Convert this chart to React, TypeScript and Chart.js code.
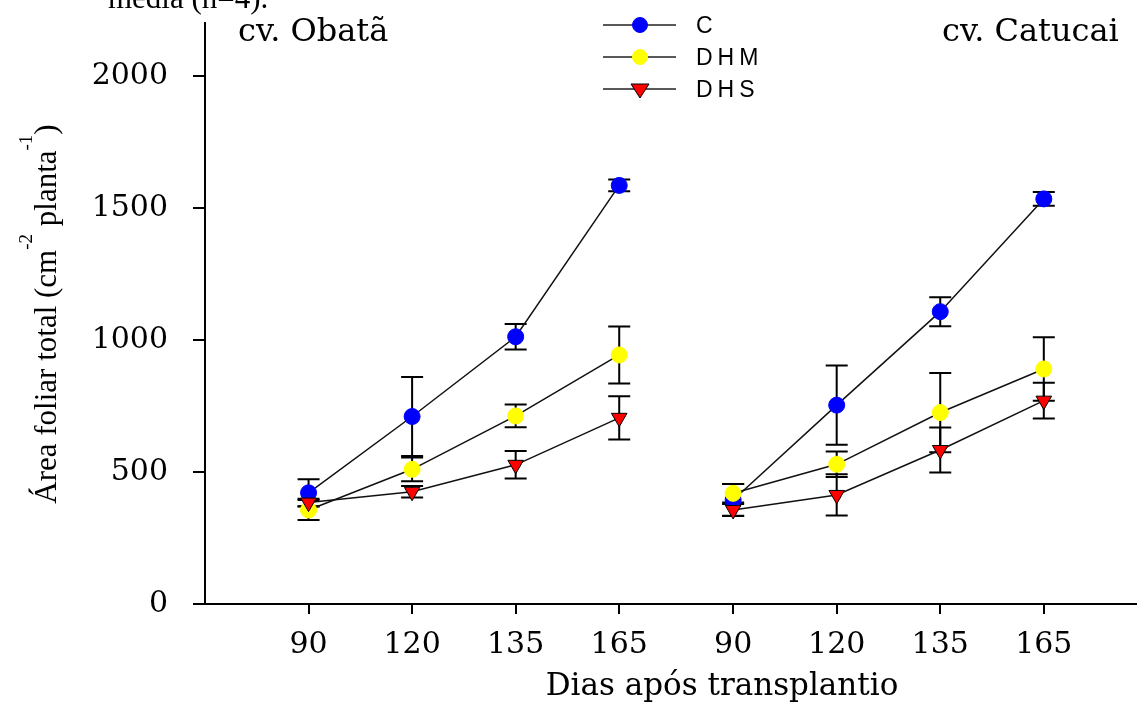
import { useEffect, useRef } from 'react';
import { Chart, registerables } from 'chart.js';

Chart.register(...registerables);

// ---- data ----
const dayLabels = ['90', '120', '135', '165'];
const obataX = [1, 2, 3, 4];
const catucaiX = [5.1, 6.1, 7.1, 8.1];
const xRange = [0, 9];
const yTicks = [0, 500, 1000, 1500, 2000];
const yMax = 2200;

const seriesNames = ['C', 'DHM', 'DHS'];
const panelTitles = ['cv. Obatã', 'cv. Catucai'];
const xTitle = 'Dias após transplantio';
const captionFragment = 'média (n=4).';

const obataC = [421, 710, 1012, 1585];
const obataCErr = [51, 150, 48, 22];
const obataDHM = [356, 510, 712, 943];
const obataDHMErr = [38, 45, 43, 108];
const obataDHS = [384, 425, 527, 705];
const obataDHSErr = [15, 22, 52, 82];

const catucaiC = [394, 753, 1107, 1534];
const catucaiCErr = [60, 150, 55, 26];
const catucaiDHM = [419, 529, 725, 890];
const catucaiDHMErr = [35, 48, 150, 120];
const catucaiDHS = [356, 413, 583, 770];
const catucaiDHSErr = [23, 78, 85, 68];

// ---- styles ----
const styles = [
  { fill: '#0000ff', border: '#0000ff', shape: 'circle', radius: 8, order: 3 },
  { fill: '#ffff00', border: '#ffff00', shape: 'circle', radius: 8, order: 2 },
  { fill: '#ff0000', border: '#000000', shape: 'triangle', radius: 9, order: 1 },
];

function makeDataset(name: string, xs: number[], ys: number[], errs: number[], s: any) {
  return {
    label: name,
    data: xs.map((x, i) => ({ x, y: ys[i] })),
    errors: errs,
    borderColor: '#111',
    borderWidth: 1.5,
    backgroundColor: s.fill,
    pointBackgroundColor: s.fill,
    pointBorderColor: s.border,
    pointBorderWidth: 1,
    pointRadius: s.radius,
    pointStyle: s.shape,
    pointRotation: s.shape === 'triangle' ? 180 : 0,
    fill: false,
    tension: 0,
    order: s.order,
    clip: false,
  };
}

const errorBarPlugin = {
  id: 'errorBars',
  beforeDatasetsDraw(chart: any) {
    const { ctx, scales } = chart;
    const x = scales.x;
    const y = scales.y;
    ctx.save();
    ctx.strokeStyle = '#000';
    ctx.lineWidth = 2;
    chart.data.datasets.forEach((ds: any) => {
      ds.data.forEach((p: any, i: number) => {
        const e = ds.errors[i];
        const px = x.getPixelForValue(p.x);
        const top = y.getPixelForValue(p.y + e);
        const bot = y.getPixelForValue(p.y - e);
        ctx.beginPath();
        ctx.moveTo(px, top);
        ctx.lineTo(px, bot);
        ctx.moveTo(px - 11, top);
        ctx.lineTo(px + 11, top);
        ctx.moveTo(px - 11, bot);
        ctx.lineTo(px + 11, bot);
        ctx.stroke();
      });
    });
    ctx.restore();
  },
};

const textPlugin = {
  id: 'texts',
  afterDraw(chart: any) {
    const { ctx } = chart;
    ctx.save();
    ctx.fillStyle = '#000';

    // caption fragment cut at top
    ctx.font = '31px "Liberation Serif"';
    ctx.textAlign = 'left';
    ctx.textBaseline = 'alphabetic';
    ctx.fillText(captionFragment, 108, 8);

    // panel titles
    ctx.font = '32px "DejaVu Serif"';
    ctx.fillText(panelTitles[0], 238, 41);
    ctx.fillText(panelTitles[1], 942, 41);

    // x title
    ctx.font = '31px "DejaVu Serif"';
    ctx.textAlign = 'center';
    ctx.fillText(xTitle, 722, 695);

    // y title with superscripts
    const segs: [string, boolean][] = [
      ['Área foliar total (cm', false],
      ['-2', true],
      [' planta', false],
      ['-1', true],
      [')', false],
    ];
    const mainFont = '31px "Liberation Serif"';
    const supFont = '19px "Liberation Serif"';
    let total = 0;
    const widths = segs.map(([t, sup]) => {
      ctx.font = sup ? supFont : mainFont;
      const w = ctx.measureText(t).width;
      total += w;
      return w;
    });
    ctx.translate(56, 314);
    ctx.rotate(-Math.PI / 2);
    ctx.textAlign = 'left';
    let cx = -total / 2;
    segs.forEach(([t, sup], i) => {
      ctx.font = sup ? supFont : mainFont;
      ctx.fillText(t, cx, sup ? -24 : 0);
      cx += widths[i];
    });
    ctx.restore();

    // legend
    ctx.save();
    const rows = [25, 57, 89];
    seriesNames.forEach((name, i) => {
      const ly = rows[i];
      ctx.strokeStyle = '#222';
      ctx.lineWidth = 1.5;
      ctx.beginPath();
      ctx.moveTo(603, ly);
      ctx.lineTo(676, ly);
      ctx.stroke();
      const s = styles[i];
      ctx.fillStyle = s.fill;
      ctx.strokeStyle = s.border;
      ctx.lineWidth = 1;
      ctx.beginPath();
      if (s.shape === 'circle') {
        ctx.arc(640, ly, 7.5, 0, Math.PI * 2);
      } else {
        ctx.moveTo(631, ly - 5);
        ctx.lineTo(649, ly - 5);
        ctx.lineTo(640, ly + 9);
        ctx.closePath();
      }
      ctx.fill();
      ctx.stroke();
      ctx.fillStyle = '#000';
      ctx.font = '23px "Liberation Sans"';
      (ctx as any).letterSpacing = '5px';
      ctx.textAlign = 'left';
      ctx.textBaseline = 'alphabetic';
      ctx.fillText(name, 696, ly + 8);
      (ctx as any).letterSpacing = '0px';
    });
    ctx.restore();
  },
};

export default function App() {
  const ref = useRef<HTMLCanvasElement | null>(null);

  useEffect(() => {
    if (!ref.current) return;
    const datasets = [
      makeDataset(seriesNames[0], obataX, obataC, obataCErr, styles[0]),
      makeDataset(seriesNames[1], obataX, obataDHM, obataDHMErr, styles[1]),
      makeDataset(seriesNames[2], obataX, obataDHS, obataDHSErr, styles[2]),
      makeDataset(seriesNames[0], catucaiX, catucaiC, catucaiCErr, styles[0]),
      makeDataset(seriesNames[1], catucaiX, catucaiDHM, catucaiDHMErr, styles[1]),
      makeDataset(seriesNames[2], catucaiX, catucaiDHS, catucaiDHSErr, styles[2]),
    ];
    const xTickValues = [...obataX, ...catucaiX];
    const xTickLabels = [...dayLabels, ...dayLabels];

    const chart = new Chart(ref.current, {
      type: 'line',
      data: { datasets: datasets as any },
      options: {
        animation: false,
        responsive: false,
        events: [],
        layout: { autoPadding: false, padding: { top: 23, left: 0, right: 0, bottom: 0 } },
        plugins: {
          legend: { display: false },
          tooltip: { enabled: false },
          title: { display: false },
        },
        scales: {
          x: {
            type: 'linear',
            min: xRange[0],
            max: xRange[1],
            afterBuildTicks: (s: any) => {
              s.ticks = xTickValues.map((v) => ({ value: v }));
            },
            afterFit: (s: any) => {
              s.height = 98;
              s.paddingLeft = 0;
              s.paddingRight = 0;
              s.paddingTop = 0;
              s.paddingBottom = 0;
            },
            grid: {
              drawOnChartArea: false,
              drawTicks: true,
              tickLength: 10,
              color: '#000',
              lineWidth: 2,
            },
            border: { display: true, color: '#000', width: 2 },
            ticks: {
              autoSkip: false,
              maxRotation: 0,
              padding: 13,
              color: '#000',
              font: { family: 'DejaVu Serif', size: 30, lineHeight: 1.2 },
              callback: (_v: any, i: number) => xTickLabels[i],
            },
          },
          y: {
            type: 'linear',
            min: 0,
            max: yMax,
            afterBuildTicks: (s: any) => {
              s.ticks = yTicks.map((v) => ({ value: v }));
            },
            afterFit: (s: any) => {
              s.width = 205;
              s.paddingLeft = 0;
              s.paddingRight = 0;
              s.paddingTop = 0;
              s.paddingBottom = 0;
            },
            grid: {
              drawOnChartArea: false,
              drawTicks: true,
              tickLength: 12,
              color: '#000',
              lineWidth: 2,
            },
            border: { display: true, color: '#000', width: 2 },
            ticks: {
              padding: 25,
              color: '#000',
              font: { family: 'DejaVu Serif', size: 30, lineHeight: 1.2 },
              callback: (v: any) => String(v),
            },
          },
        },
      },
      plugins: [errorBarPlugin, textPlugin],
    });
    return () => chart.destroy();
  }, []);

  return (
    <div style={{ position: 'fixed', left: 0, top: 0, width: 1137, height: 702, background: '#fff' }}>
      <canvas ref={ref} width={1137} height={702} style={{ display: 'block' }} />
    </div>
  );
}
